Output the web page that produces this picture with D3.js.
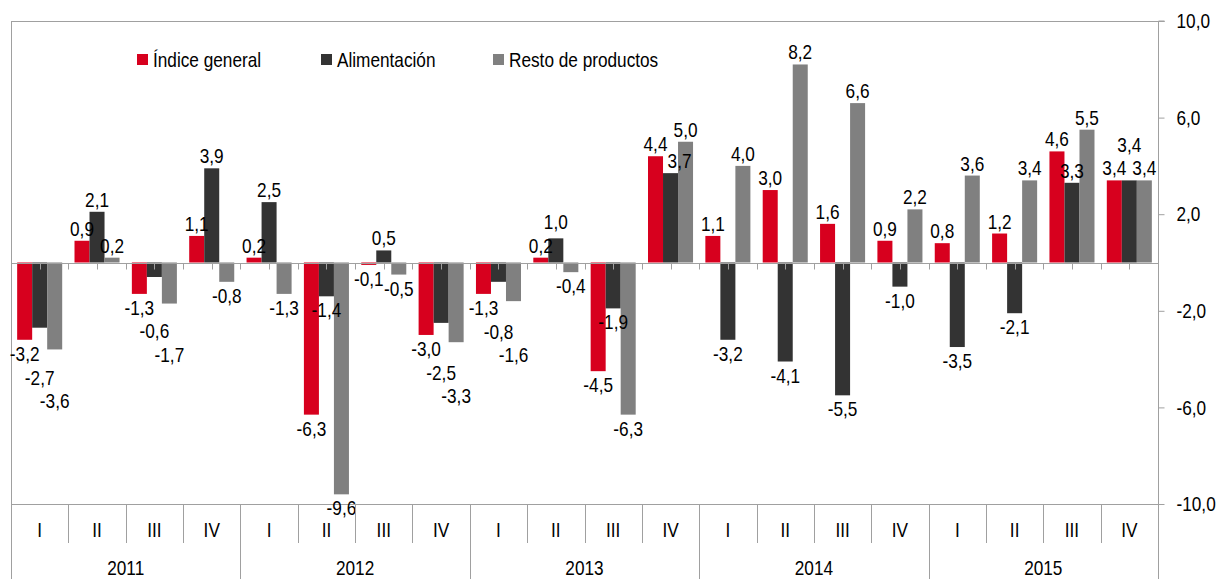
<!DOCTYPE html>
<html><head><meta charset="utf-8">
<script src="https://cdn.jsdelivr.net/npm/d3@7"></script>
<style>
body{margin:0;background:#fff}
text{font-family:"Liberation Sans",Arial,sans-serif;fill:#000}
</style>
</head><body>
<svg id="c" width="1216" height="579"></svg>
<script>
const years=["2011","2012","2013","2014","2015"];
const quarters=["I","II","III","IV"];
const seriesNames=["Índice general","Alimentación","Resto de productos"];
const indiceGeneral=[-3.2,0.9,-1.3,1.1,0.2,-6.3,-0.1,-3.0,-1.3,0.2,-4.5,4.4,1.1,3.0,1.6,0.9,0.8,1.2,4.6,3.4];
const alimentacion=[-2.7,2.1,-0.6,3.9,2.5,-1.4,0.5,-2.5,-0.8,1.0,-1.9,3.7,-3.2,-4.1,-5.5,-1.0,-3.5,-2.1,3.3,3.4];
const restoProductos=[-3.6,0.2,-1.7,-0.8,-1.3,-9.6,-0.5,-3.3,-1.6,-0.4,-6.3,5.0,4.0,8.2,6.6,2.2,3.6,3.4,5.5,3.4];
const yTicks=[-10,-6,-2,2,6,10];
const colors=["#d7001e","#333333","#808080"];

const loc=d3.formatLocale({decimal:",",thousands:".",grouping:[3],currency:["","€"],minus:"-"});
const fmt=loc.format(".1f");

const FS=21, S=0.82; // font size and horizontal condensation
const svg=d3.select("#c");
function ntext(g,x,y,str,anchor){
  return g.append("text").attr("transform",`translate(${x},${y}) scale(${S},1)`)
    .attr("font-size",FS).attr("text-anchor",anchor||"start").text(str);
}
const L=11,R=1158,T=21,B=504;
const periods=[];
years.forEach(y=>quarters.forEach(q=>periods.push(y+"-"+q)));
const seriesVals=[indiceGeneral,alimentacion,restoProductos];

const x0=d3.scaleBand().domain(periods).range([L,R]).paddingInner(0).paddingOuter(0);
const x1=d3.scaleBand().domain([0,1,2]).range([0,x0.bandwidth()]).paddingInner(0).paddingOuter(0.41);
const y=d3.scaleLinear().domain([-10,10]).range([B,T]);
const gridC="#a0a0a0";

// frame
svg.append("line").attr("x1",L).attr("x2",R).attr("y1",T+0.5).attr("y2",T+0.5).attr("stroke",gridC);
svg.append("line").attr("x1",L+0.5).attr("x2",L+0.5).attr("y1",T).attr("y2",579).attr("stroke",gridC);
svg.append("line").attr("x1",L).attr("x2",R).attr("y1",B+0.5).attr("y2",B+0.5).attr("stroke",gridC);
svg.append("line").attr("x1",R+0.5).attr("x2",R+0.5).attr("y1",B).attr("y2",579).attr("stroke",gridC);

// bars
const data=[];
periods.forEach((p,i)=>seriesVals.forEach((s,k)=>data.push({p,k,v:s[i]})));
svg.append("g").selectAll("rect").data(data).join("rect")
  .attr("x",d=>x0(d.p)+x1(d.k))
  .attr("width",x1.bandwidth())
  .attr("y",d=>y(Math.max(0,d.v)))
  .attr("height",d=>Math.abs(y(d.v)-y(0)))
  .attr("fill",d=>colors[d.k]);

// zero axis with ticks every half category
const y0=Math.round(y(0))+0.5;
svg.append("line").attr("x1",L).attr("x2",R).attr("y1",y0).attr("y2",y0).attr("stroke",gridC);
const halfTicks=[];
periods.forEach(p=>{halfTicks.push(x0(p));halfTicks.push(x0(p)+x0.bandwidth()/2);});
svg.append("g").selectAll("line").data(halfTicks.filter(v=>v>L+1)).join("line")
  .attr("x1",d=>Math.round(d)+0.5).attr("x2",d=>Math.round(d)+0.5)
  .attr("y1",y0).attr("y2",y0+6).attr("stroke",gridC);

// right axis
const ax=svg.append("g").attr("transform",`translate(${R+0.5},0)`)
  .call(d3.axisRight(y).tickValues(yTicks).tickSize(6).tickPadding(12).tickFormat(fmt));
ax.select(".domain").attr("stroke",gridC).attr("d",`M6,${T}H0V${B}`);
ax.selectAll(".tick line").attr("stroke",gridC);
ax.selectAll(".tick text").attr("font-size",FS).attr("font-family",null)
  .attr("x",18/S).attr("transform",`scale(${S},1)`);
svg.append("line").attr("x1",R+0.5).attr("x2",R+6.5).attr("y1",T+0.5).attr("y2",T+0.5).attr("stroke",gridC);

// data labels with simple collision avoidance (cheapest of small side shift / move away from bar)
const placed=[];
const lblG=svg.append("g");
const charW=c=>(c===","?0.278:c==="-"?0.333:0.556)*FS*S;
data.forEach(d=>{
  const str=fmt(d.v);
  const w=Array.from(str).reduce((a,c)=>a+charW(c),0);
  const cx=x0(d.p)+x1(d.k)+x1.bandwidth()/2;
  const pos=d.v>=0;
  const by0=pos?y(d.v)-5:y(d.v)+21;
  const box=(c,b)=>({x1:c-w/2,x2:c+w/2,y1:b-19,y2:b+4});
  const hit=bx=>placed.some(o=>Math.min(bx.x2,o.x2)-Math.max(bx.x1,o.x1)>0 && Math.min(bx.y2,o.y2)-Math.max(bx.y1,o.y1)>0);
  let best=null,bestCost=Infinity;
  for(let n=0;n<=60;n++){
    for(let dx=-10;dx<=10;dx++){
      const cost=n+3*Math.abs(dx);
      if(cost>=bestCost) continue;
      const b=by0+(pos?-n:n);
      if(!hit(box(cx+dx,b))){best={c:cx+dx,b};bestCost=cost;}
    }
  }
  if(!best) best={c:cx,b:by0};
  placed.push(box(best.c,best.b));
  ntext(lblG,best.c,best.b,str,"middle");
});

// category axis: quarters
const catG=svg.append("g");
periods.forEach(p=>ntext(catG,x0(p)+x0.bandwidth()/2,537,p.split("-")[1],"middle"));
svg.append("g").selectAll("line").data(periods.filter((p,i)=>i>0)).join("line")
  .attr("x1",p=>Math.round(x0(p))+0.5).attr("x2",p=>Math.round(x0(p))+0.5)
  .attr("y1",B).attr("y2",p=>p.endsWith("-I")?579:543).attr("stroke",gridC);
// years
years.forEach(yr=>ntext(catG,x0(yr+"-I")+2*x0.bandwidth(),575,yr,"middle"));

// legend
const legX=[137,321,493];
const lg=svg.append("g");
seriesNames.forEach((n,k)=>{
  lg.append("rect").attr("x",legX[k]).attr("y",54).attr("width",11).attr("height",11).attr("fill",colors[k]);
  ntext(lg,legX[k]+16,66.5,n);
});
</script>
</body></html>
